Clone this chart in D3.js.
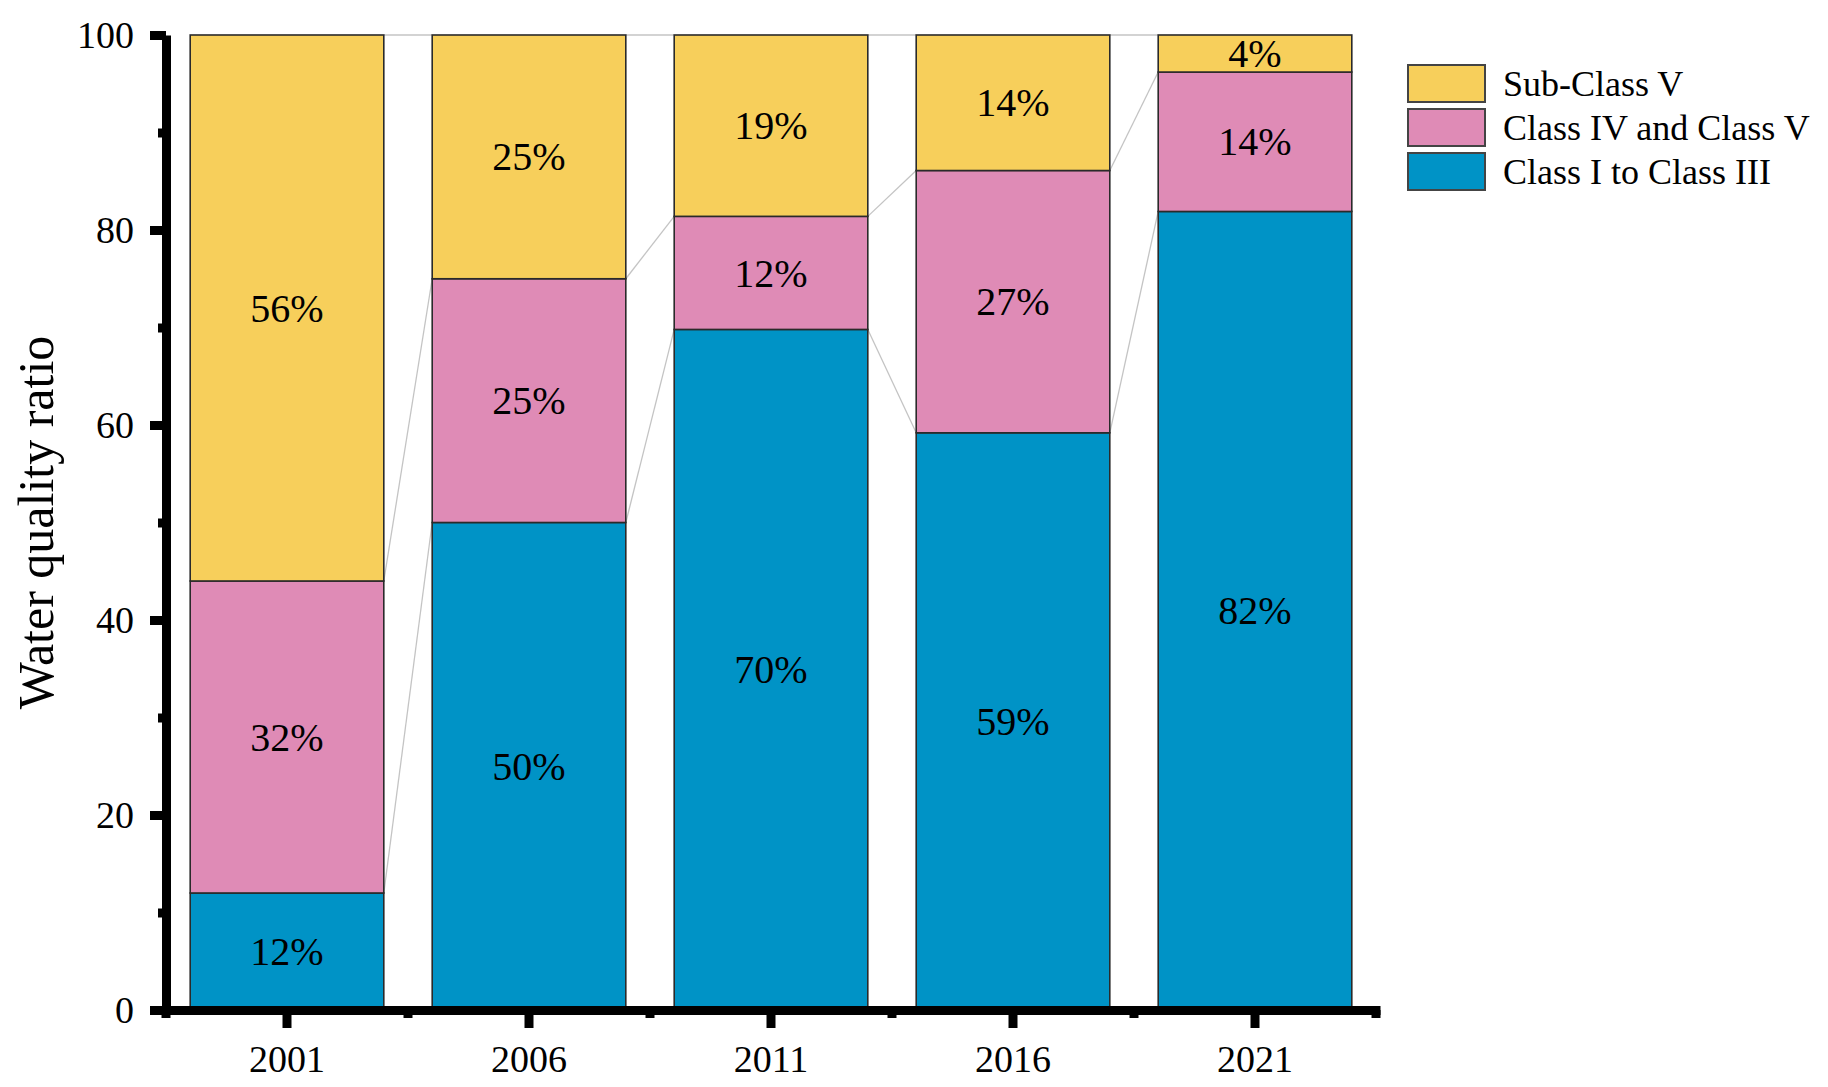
<!DOCTYPE html>
<html>
<head>
<meta charset="utf-8">
<script src="https://cdn.jsdelivr.net/npm/d3@7"></script>
<style>
  html, body { margin: 0; padding: 0; background: #fff; }
  svg { display: block; }
  text { font-family: "Liberation Serif", "Times New Roman", serif; fill: #000; }
</style>
</head>
<body>
<svg id="chart" width="1828" height="1087"></svg>
<script>
// ---- data ----
const categories = ["2001", "2006", "2011", "2016", "2021"];
const classI_III = [12, 50, 69.8, 59.2, 81.9];
const classIV_V = [32, 25, 11.6, 26.9, 14.3];
const subClassV = [56, 25, 18.6, 13.9, 3.8];
const seriesKeys = ["Class I to Class III", "Class IV and Class V", "Sub-Class V"];
const seriesColors = ["#0093C6", "#DF8BB6", "#F7CF5B"];
const legendOrder = ["Sub-Class V", "Class IV and Class V", "Class I to Class III"];
const yMajorTicks = [0, 20, 40, 60, 80, 100];
const yMinorTicks = [10, 30, 50, 70, 90];
const yTitle = "Water quality ratio";

const table = categories.map((c, i) => ({
  year: c,
  "Class I to Class III": classI_III[i],
  "Class IV and Class V": classIV_V[i],
  "Sub-Class V": subClassV[i]
}));

const svg = d3.select("#chart");
const plotLeft = 166, plotRight = 1376, plotTop = 35, plotBottom = 1010;

const x = d3.scaleBand().domain(categories).range([plotLeft, plotRight]).paddingInner(0.2).paddingOuter(0.1);
const y = d3.scaleLinear().domain([0, 100]).range([plotBottom, plotTop]);
const color = d3.scaleOrdinal().domain(seriesKeys).range(seriesColors);

const stacked = d3.stack().keys(seriesKeys)(table);

// connector lines (behind bars)
const gConn = svg.append("g");
const boundaries = [];
categories.forEach((c, i) => {
  if (i === categories.length - 1) return;
  stacked.forEach(s => {
    boundaries.push({ a: categories[i], b: categories[i + 1], va: s[i][1], vb: s[i + 1][1] });
  });
});
gConn.selectAll("line").data(boundaries).join("line")
  .attr("x1", d => x(d.a) + x.bandwidth())
  .attr("x2", d => x(d.b))
  .attr("y1", d => y(d.va))
  .attr("y2", d => y(d.vb))
  .attr("stroke", "#c4c4c4")
  .attr("stroke-width", 1.3);

// bars
const gBars = svg.append("g");
stacked.forEach(s => {
  gBars.append("g").selectAll("rect").data(s).join("rect")
    .attr("x", d => x(d.data.year))
    .attr("width", x.bandwidth())
    .attr("y", d => y(d[1]))
    .attr("height", d => y(d[0]) - y(d[1]))
    .attr("fill", color(s.key))
    .attr("stroke", "#2a2a2a")
    .attr("stroke-width", 1.6);
});

// bar labels
stacked.forEach(s => {
  svg.append("g").selectAll("text").data(s).join("text")
    .attr("x", d => x(d.data.year) + x.bandwidth() / 2)
    .attr("y", d => (y(d[0]) + y(d[1])) / 2)
    .attr("dy", "0.34em")
    .attr("text-anchor", "middle")
    .attr("font-size", 40)
    .text(d => Math.round(d[1] - d[0]) + "%");
});

// axes
function styleAxis(g) {
  g.select(".domain").attr("stroke", "#000").attr("stroke-width", 9);
  g.selectAll(".tick line").attr("stroke", "#000").attr("stroke-width", 9);
}

const yAxisMinor = svg.append("g").attr("transform", `translate(${plotLeft},0)`)
  .call(d3.axisLeft(y).tickValues(yMinorTicks).tickSize(8).tickSizeOuter(0).tickFormat(""));
styleAxis(yAxisMinor);
yAxisMinor.select(".domain").remove();

const yAxis = svg.append("g").attr("transform", `translate(${plotLeft},0)`)
  .call(d3.axisLeft(y).tickValues(yMajorTicks).tickSize(16).tickSizeOuter(0).tickPadding(16));
styleAxis(yAxis);
yAxis.selectAll(".tick text")
  .attr("font-size", 38)
  .attr("font-family", "Liberation Serif, Times New Roman, serif")
  .attr("x", -32)
  .attr("dy", "0.34em");

// x minor ticks at band boundaries
const step = x.step();
const xBoundaries = categories.map(c => x(c) + x.bandwidth() / 2 - step / 2)
  .concat([x(categories[categories.length - 1]) + x.bandwidth() / 2 + step / 2]);
svg.append("g").selectAll("line").data(xBoundaries).join("line")
  .attr("x1", d => d).attr("x2", d => d)
  .attr("y1", plotBottom).attr("y2", plotBottom + 8)
  .attr("stroke", "#000").attr("stroke-width", 9);

const xAxis = svg.append("g").attr("transform", `translate(0,${plotBottom})`)
  .call(d3.axisBottom(x).tickSize(18).tickSizeOuter(0));
styleAxis(xAxis);
xAxis.select(".domain").attr("d", `M${plotLeft - 4.5},0.5H${plotRight + 4.5}`);
xAxis.selectAll(".tick text")
  .attr("font-size", 38)
  .attr("font-family", "Liberation Serif, Times New Roman, serif")
  .attr("y", 62)
  .attr("dy", null);

// y title
svg.append("text")
  .attr("transform", `translate(53,${(plotTop + plotBottom) / 2}) rotate(-90)`)
  .attr("text-anchor", "middle")
  .attr("font-size", 50)
  .text(yTitle);

// legend
const legend = svg.append("g");
legendOrder.forEach((k, i) => {
  const cy = 83.5 + i * 44;
  legend.append("rect")
    .attr("x", 1408).attr("y", cy - 18.5)
    .attr("width", 77).attr("height", 37)
    .attr("fill", color(k))
    .attr("stroke", "#444").attr("stroke-width", 2);
  legend.append("text")
    .attr("x", 1503).attr("y", cy)
    .attr("dy", "0.36em")
    .attr("font-size", 36)
    .text(k);
});
</script>
</body>
</html>
